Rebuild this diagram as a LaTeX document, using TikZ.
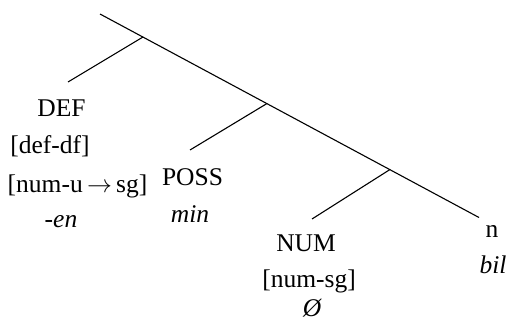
\documentclass[tikz,border=0pt]{standalone}
\usepackage{fontspec}
\setmainfont{Liberation Serif}
\begin{document}
\begin{tikzpicture}[x=1pt,y=-1pt,
  lbl/.style={anchor=base,inner sep=0pt,font=\fontsize{25.5}{30}\selectfont},
  branch/.style={line width=1.1pt}]
\useasboundingbox (0,0) rectangle (509,324);
% tree skeleton
\coordinate (root) at (100,14);
\coordinate (j1) at (143,37);
\coordinate (j2) at (267,103.5);
\coordinate (j3) at (390,169.5);
\coordinate (nend) at (479,217.5);
\coordinate (defend) at (68,82);
\coordinate (possend) at (190,150);
\coordinate (numend) at (312,219);
\draw[branch] (root) -- (nend);
\draw[branch] (j1) -- (defend);
\draw[branch] (j2) -- (possend);
\draw[branch] (j3) -- (numend);
% DEF
\node[lbl] (def) at (61.5,116) {DEF};
\node[lbl] (defa) at (50,153) {[def-df]};
\node[lbl] (defb) at (77.5,192) {[num-u\,$\rightarrow$\,sg]};
\node[lbl] (defc) at (61,227) {\itshape -en};
% POSS
\node[lbl] (poss) at (192.5,185) {POSS};
\node[lbl] (possa) at (190,222) {\itshape min};
% NUM
\node[lbl] (num) at (306,251) {NUM};
\node[lbl] (numa) at (309,287) {[num-sg]};
\node[lbl] (numb) at (312,316) {\itshape Ø};
% n
\node[lbl] (n) at (492,237) {n};
\node[lbl] (na) at (493,273) {\itshape bil};
\end{tikzpicture}
\end{document}
